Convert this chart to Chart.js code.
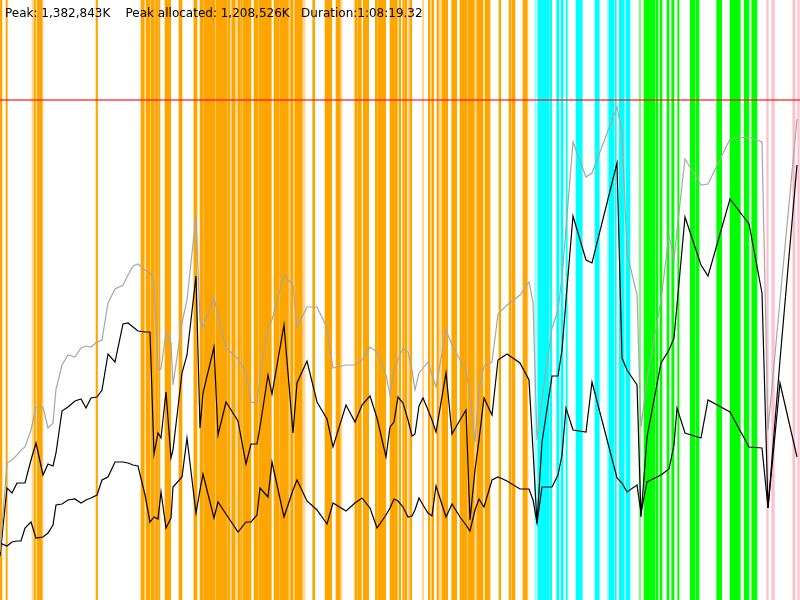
<!DOCTYPE html>
<html>
<head>
<meta charset="utf-8">
<script src="https://cdn.jsdelivr.net/npm/chart.js@4"></script>
<style>
  body { margin: 0; background: #fff; }
  #wrap { position: relative; width: 800px; height: 600px; }
  #info { position: absolute; left: 5px; top: 6px; font: 12px "DejaVu Sans", sans-serif; color: #000; white-space: pre; }
</style>
</head>
<body>
<div id="wrap">
  <canvas id="memChart" width="800" height="600"></canvas>
  <div id="info">Peak: 1,382,843K    Peak allocated: 1,208,526K   Duration:1:08:19.32</div>
</div>
<script>
// timeline position of each sample (0..800 over the run)
var sampleTime = [0,7,12,17,21,25,31,36,43,48,53,56,62,68,75,81,86,91,97,102,108,115,123,128,133,138,145,150,154,158,161,166,171,173,182,187,196,200,203,214,218,226,238,246,251,257,260,268,272,284,293,297,307,317,327,333,346,355,362,370,377,386,390,394,398,403,408,412,415,419,423,428,432,436,446,452,460,466,470,475,479,484,492,498,507,520,529,533,537,542,552,558,562,566,573,586,592,617,622,627,637,641,647,661,669,674,677,685,701,708,730,749,762,768,780,797];
// heap size, scaled so that the peak line sits at 500
var heapCommitted = [48,137,140,145,150,153,170,193,193,172,177,211,235,245,243,252,254,253,258,260,297,311,315,325,334,336,330,327,320,230,231,268,257,215,277,300,384,280,273,302,285,252,241,228,198,197,222,274,280,325,315,273,293,293,272,232,235,235,240,253,248,225,205,230,240,252,248,230,210,227,232,238,225,213,270,255,240,230,205,158,210,234,238,286,295,305,318,298,160,200,272,290,323,372,458,423,427,493,467,347,305,173,220,300,365,340,370,441,415,416,461,463,458,170,300,481];
var heapUsed = [44,112,107,117,117,117,140,157,125,136,134,147,189,193,199,201,192,202,203,210,246,238,276,277,273,269,268,268,146,167,162,208,142,150,227,245,324,172,207,253,165,198,179,136,156,156,173,225,206,275,167,217,239,198,181,153,195,178,195,204,182,143,173,178,203,197,180,164,166,194,202,190,180,168,227,166,180,190,80,130,160,202,185,240,246,237,220,150,77,158,224,224,250,300,384,340,337,437,242,230,215,83,163,237,250,262,295,383,335,324,401,376,307,92,240,435];
var heapLive = [57,54,58,59,59,72,78,62,63,67,75,95,96,100,101,97,100,102,105,120,123,138,138,137,135,134,105,78,83,81,108,72,82,113,123,162,87,110,126,82,98,86,68,78,78,85,112,103,138,83,110,120,99,90,76,97,89,97,102,92,72,85,92,101,99,93,83,84,90,102,95,87,84,114,83,96,83,75,69,90,101,93,120,123,119,111,111,100,77,113,113,125,145,192,170,168,218,122,117,108,115,87,118,125,131,155,192,167,162,200,188,153,152,92,217,143];
var peakLevel = 500;

// collector activity spans [start, end] on the same timeline
var orangeSpans = [[0,2],[6,7.3],[34,35.5],[37,42],[96,97.5],[141,144.3],[146,150],[151,154.3],[155.7,158.3],[159,160],[165,170.7],[179,182],[194.3,197],[200,203.3],[204,215],[216,226.7],[228,230],[231.7,235],[238.3,240.3],[241,242.3],[243.3,251],[254,258.3],[259.3,270],[270.3,271.3],[274,279.3],[280,288.3],[290.7,292.7],[295,302.3],[312.7,314.7],[325,331.7],[336,340],[355.3,357.3],[358,361.3],[363.3,368.7],[375.3,377.3],[378,381],[381.3,385.7],[390,397.3],[399,400.7],[402.7,404.3],[405,406.7],[409.7,411.7],[428.3,430],[431.7,433.7],[437,438.3],[442.3,447.7],[451.7,456.7],[460,466.7],[467.7,474.3],[477,483],[485,490],[499,500.7],[509,511],[512,515],[523,527]];
var paleOrangeSpans = [[32,33],[42,43],[154.3,155.7],[193.3,194.3],[226.7,228],[235.7,238.3],[288.3,290.7],[292.7,294.7],[303.3,305],[340,342],[354,355.3],[407.7,408.7],[422.3,423.7],[438.3,441.7],[475,477],[527,528]];
var cyanSpans = [[537.7,549],[550,551.7],[556.7,559],[561,563],[566,567.3],[576,582.3],[595,599.3],[609,613.7],[615,616.3],[619.3,624.3],[626,630]];
var paleCyanSpans = [[534.5,536],[607.3,609]];
var greenSpans = [[644,655],[656,658],[660,662],[667,669],[671.7,674],[677.7,679],[690.3,695],[696,699],[716.7,721.7],[730,732.7],[732.7,737.7],[738.3,740.3],[744.3,749],[751.7,757]];
var paleGreenSpans = [[639,640.7]];
var pinkSpans = [[766.7,768.3],[771.7,774.3],[792.7,795],[797.7,799.3]];

function toPoints(ys) {
    return sampleTime.map(function (t, i) { return { x: t, y: ys[i] }; });
}
function toBands(spans) {
    return spans.map(function (s) { return { y: 'gc', x: s }; });
}
function bandSet(spans, color) {
    return {
        type: 'bar', indexAxis: 'y', xAxisID: 'x', yAxisID: 'band', grouped: false,
        data: toBands(spans), backgroundColor: color, borderWidth: 0,
        barPercentage: 1, categoryPercentage: 1, order: 10
    };
}
function lineSet(ys, color, width) {
    return {
        type: 'line', xAxisID: 'x', yAxisID: 'y', data: toPoints(ys),
        borderColor: color, borderWidth: width, pointRadius: 0, tension: 0, fill: false, order: 1
    };
}

var ctx = document.getElementById('memChart').getContext('2d');
var memChart = new Chart(ctx, {
    type: 'line',
    data: {
        datasets: [
            bandSet(orangeSpans, '#ffa500'),
            bandSet(paleOrangeSpans, '#ffd68a'),
            bandSet(cyanSpans, '#00ffff'),
            bandSet(paleCyanSpans, '#9ffcfc'),
            bandSet(greenSpans, '#00ff00'),
            bandSet(paleGreenSpans, '#8cf58c'),
            bandSet(pinkSpans, '#ffc0cb'),
            {
                type: 'line', xAxisID: 'x', yAxisID: 'y',
                data: [{ x: 0, y: peakLevel }, { x: 800, y: peakLevel }],
                borderColor: 'rgba(255,0,0,0.55)', borderWidth: 2, pointRadius: 0, order: 5
            },
            lineSet(heapCommitted, '#a6a6a6', 1.2),
            lineSet(heapUsed, '#000000', 1.2),
            lineSet(heapLive, '#000000', 1.2)
        ]
    },
    options: {
        responsive: false,
        animation: false,
        layout: { padding: 0 },
        plugins: { legend: { display: false }, tooltip: { enabled: false } },
        scales: {
            x: { type: 'linear', min: 0, max: 800, display: false },
            y: { type: 'linear', min: 0, max: 600, display: false },
            band: { type: 'category', labels: ['gc'], display: false, offset: true }
        }
    }
});
</script>
</body>
</html>
